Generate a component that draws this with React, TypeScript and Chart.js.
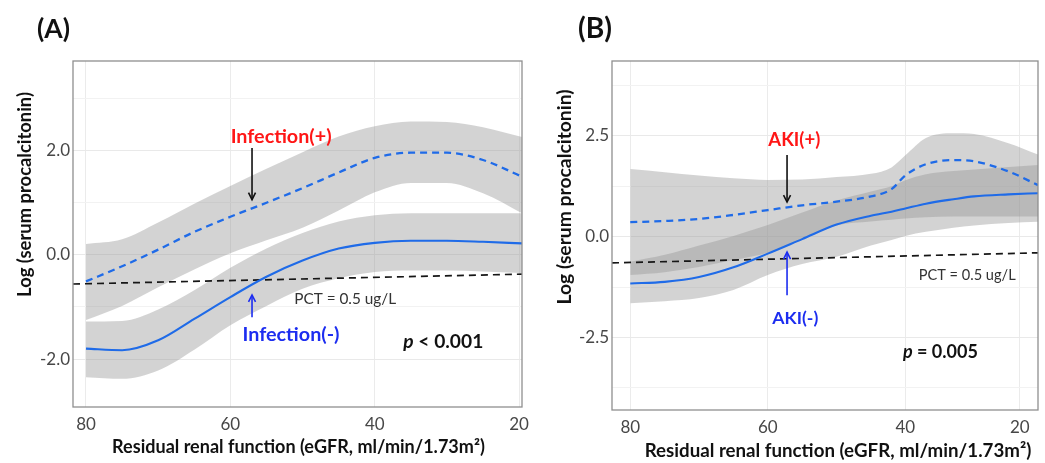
import React, { useEffect, useRef } from "react";
import { Chart, registerables } from "chart.js";
Chart.register(...registerables);

const FAMILY = "Lato, 'Open Sans', sans-serif";

// ---------- Panel A data (Infection) ----------
const A_EGFR = [80, 75, 70, 65, 60, 55, 50, 45, 40, 35, 30, 25, 19.6];
const A_POS = [-0.51, -0.22, 0.1, 0.44, 0.73, 1.0, 1.28, 1.58, 1.86, 1.96, 1.96, 1.82, 1.5];
const A_POS_HI = [0.21, 0.3, 0.62, 0.98, 1.32, 1.65, 1.97, 2.27, 2.47, 2.56, 2.55, 2.45, 2.26];
const A_POS_LO = [-1.25, -0.98, -0.62, -0.28, 0.03, 0.28, 0.52, 0.85, 1.2, 1.38, 1.38, 1.18, 0.8];
const A_NEG = [-1.8, -1.83, -1.64, -1.23, -0.81, -0.42, -0.11, 0.12, 0.23, 0.27, 0.27, 0.25, 0.22];
const A_NEG_HI = [-1.28, -1.27, -1.05, -0.68, -0.25, 0.12, 0.42, 0.64, 0.76, 0.8, 0.8, 0.8, 0.8];
const A_NEG_LO = [-2.35, -2.38, -2.22, -1.82, -1.35, -0.98, -0.65, -0.45, -0.33, -0.3, -0.3, -0.32, -0.35];
const A_PCT_X = [81.8, 19.6];
const A_PCT_Y = [-0.56, -0.37];
const A_X_TICKS = [80, 60, 40, 20];
const A_X_LABELS = ["80", "60", "40", "20"];
const A_Y_GRID = [-2, -1, 0, 1, 2, 3];
const A_Y_LABELED = [-2, 0, 2];

// ---------- Panel B data (AKI) ----------
const B_EGFR = [80, 75, 70, 65, 60, 55, 50, 45, 42, 40, 37, 33, 30, 25, 20.7];
const B_POS = [0.36, 0.39, 0.44, 0.54, 0.66, 0.78, 0.87, 1.0, 1.18, 1.52, 1.8, 1.9, 1.87, 1.62, 1.28];
const B_POS_HI = [1.68, 1.6, 1.52, 1.45, 1.41, 1.42, 1.48, 1.56, 1.72, 2.02, 2.45, 2.57, 2.55, 2.32, 2.04];
const B_POS_LO = [-0.95, -0.88, -0.75, -0.58, -0.4, -0.05, 0.28, 0.38, 0.42, 0.45, 0.48, 0.5, 0.5, 0.5, 0.5];
const B_NEG = [-1.16, -1.12, -1.0, -0.76, -0.42, -0.06, 0.3, 0.52, 0.62, 0.7, 0.82, 0.93, 1.0, 1.05, 1.08];
const B_NEG_HI = [-0.62, -0.45, -0.22, 0.02, 0.29, 0.6, 0.9, 1.12, 1.25, 1.4, 1.55, 1.63, 1.67, 1.73, 1.78];
const B_NEG_LO = [-1.65, -1.6, -1.52, -1.32, -0.95, -0.68, -0.5, -0.22, -0.08, 0.02, 0.12, 0.22, 0.28, 0.34, 0.37];
const B_PCT_X = [82.66, 20.7];
const B_PCT_Y = [-0.65, -0.4];
const B_X_TICKS = [80, 60, 40, 23.35];
const B_X_LABELS = ["80", "60", "40", "20"];
const B_Y_GRID = [-3.75, -2.5, -1.25, 0, 1.25, 2.5, 3.75];
const B_Y_LABELED = [-2.5, 0, 2.5];

const Y_TITLE = "Log (serum procalcitonin)";
const X_TITLE = "Residual renal function (eGFR, ml/min/1.73m\u00B2)";

const LINE_BLUE = "#1f6be8";
const TEXT_BLUE = "#1c2df0";
const TEXT_RED = "#ff1616";
const BAND = "rgba(150,150,150,0.42)";

type Txt = { t: string; italic?: boolean };

function fitSize(ctx: CanvasRenderingContext2D, parts: Txt[], weight: string, target: number) {
  let w = 0;
  for (const p of parts) {
    ctx.font = `${p.italic ? "italic " : ""}${weight} 100px ${FAMILY}`;
    w += ctx.measureText(p.t).width;
  }
  return (100 * target) / w;
}

function drawParts(
  ctx: CanvasRenderingContext2D,
  parts: Txt[],
  cx: number,
  cy: number,
  target: number,
  weight: string,
  color: string
) {
  const size = fitSize(ctx, parts, weight, target);
  let total = 0;
  const widths: number[] = [];
  for (const p of parts) {
    ctx.font = `${p.italic ? "italic " : ""}${weight} ${size}px ${FAMILY}`;
    const w = ctx.measureText(p.t).width;
    widths.push(w);
    total += w;
  }
  let x = cx - total / 2;
  ctx.fillStyle = color;
  ctx.textBaseline = "middle";
  ctx.textAlign = "left";
  parts.forEach((p, i) => {
    ctx.font = `${p.italic ? "italic " : ""}${weight} ${size}px ${FAMILY}`;
    ctx.fillText(p.t, x, cy);
    x += widths[i];
  });
}

function drawArrow(ctx: CanvasRenderingContext2D, x: number, y1: number, y2: number, color: string) {
  const dir = y2 > y1 ? 1 : -1;
  ctx.save();
  ctx.strokeStyle = color;
  ctx.lineWidth = 1.6;
  ctx.setLineDash([]);
  ctx.beginPath();
  ctx.moveTo(x, y1);
  ctx.lineTo(x, y2);
  ctx.stroke();
  ctx.beginPath();
  ctx.moveTo(x - 3.5, y2 - dir * 7);
  ctx.lineTo(x, y2);
  ctx.lineTo(x + 3.5, y2 - dir * 7);
  ctx.stroke();
  ctx.restore();
}

type Cfg = {
  boxLeft: number;
  boxWidth: number;
  area: { left: number; top: number; right: number; bottom: number };
  xMin: number;
  xMax: number;
  yMin: number;
  yMax: number;
  xTicks: number[];
  xLabels: string[];
  yGrid: number[];
  yLabeled: number[];
  egfr: number[];
  pos: number[];
  posHi: number[];
  posLo: number[];
  neg: number[];
  negHi: number[];
  negLo: number[];
  pctX: number[];
  pctY: number[];
  tag: string;
  tagPos: [number, number, number];
  yTitlePos: [number, number, number];
  xTitlePos: [number, number, number];
  posLabel: string;
  posLabelAt: [number, number, number];
  posArrow: [number, number, number];
  negLabel: string;
  negLabelAt: [number, number, number];
  negArrow: [number, number, number];
  pctAt: [number, number, number];
  pText: Txt[];
  pAt: [number, number, number];
};

const PANEL_A: Cfg = {
  boxLeft: 0,
  boxWidth: 540,
  area: { left: 73, top: 61, right: 522, bottom: 407 },
  xMin: 19.6,
  xMax: 81.8,
  yMin: -2.92,
  yMax: 3.72,
  xTicks: A_X_TICKS,
  xLabels: A_X_LABELS,
  yGrid: A_Y_GRID,
  yLabeled: A_Y_LABELED,
  egfr: A_EGFR,
  pos: A_POS,
  posHi: A_POS_HI,
  posLo: A_POS_LO,
  neg: A_NEG,
  negHi: A_NEG_HI,
  negLo: A_NEG_LO,
  pctX: A_PCT_X,
  pctY: A_PCT_Y,
  tag: "(A)",
  tagPos: [53.5, 29, 33],
  yTitlePos: [25, 194.5, 205],
  xTitlePos: [298.5, 447, 373],
  posLabel: "Infection(+)",
  posLabelAt: [52.97, 2.27, 101],
  posArrow: [57.0, 2.05, 1.06],
  negLabel: "Infection(-)",
  negLabelAt: [51.6, -1.54, 97],
  negArrow: [57.0, -1.2, -0.77],
  pctAt: [44.1, -0.85, 102],
  pText: [{ t: "p", italic: true }, { t: " < 0.001" }],
  pAt: [30.5, -1.67, 80],
};

const PANEL_B: Cfg = {
  boxLeft: 540,
  boxWidth: 505,
  area: { left: 72, top: 61, right: 498, bottom: 410 },
  xMin: 20.7,
  xMax: 82.66,
  yMin: -4.3,
  yMax: 4.36,
  xTicks: B_X_TICKS,
  xLabels: B_X_LABELS,
  yGrid: B_Y_GRID,
  yLabeled: B_Y_LABELED,
  egfr: B_EGFR,
  pos: B_POS,
  posHi: B_POS_HI,
  posLo: B_POS_LO,
  neg: B_NEG,
  negHi: B_NEG_HI,
  negLo: B_NEG_LO,
  pctX: B_PCT_X,
  pctY: B_PCT_Y,
  tag: "(B)",
  tagPos: [55, 29, 34],
  yTitlePos: [25, 197, 215],
  xTitlePos: [298, 451, 387],
  posLabel: "AKI(+)",
  posLabelAt: [56.15, 2.4, 52],
  posArrow: [57.2, 2.03, 0.86],
  negLabel: "AKI(-)",
  negLabelAt: [56.0, -2.02, 46],
  negArrow: [57.2, -1.45, -0.38],
  pctAt: [31.0, -0.95, 97],
  pText: [{ t: "p", italic: true }, { t: " = 0.005" }],
  pAt: [34.9, -2.86, 75],
};

const pts = (xs: number[], ys: number[]) => xs.map((x, i) => ({ x, y: ys[i] }));

function Panel({ cfg }: { cfg: Cfg }) {
  const ref = useRef<HTMLCanvasElement>(null);
  useEffect(() => {
    const canvas = ref.current;
    if (!canvas) return;
    const overlay = {
      id: "overlay",
      afterDatasetsDraw(chart: any) {
        const { ctx, chartArea: a } = chart;
        ctx.save();
        ctx.strokeStyle = "#8f8f8f";
        ctx.lineWidth = 1.3;
        ctx.setLineDash([]);
        ctx.strokeRect(a.left, a.top, a.right - a.left, a.bottom - a.top);
        ctx.restore();
      },
      afterDraw(chart: any) {
        const ctx: CanvasRenderingContext2D = chart.ctx;
        const xs = chart.scales.x;
        const ys = chart.scales.y;
        const px = (v: number) => xs.getPixelForValue(v);
        const py = (v: number) => ys.getPixelForValue(v);
        ctx.save();
        drawParts(ctx, [{ t: cfg.tag }], cfg.tagPos[0], cfg.tagPos[1], cfg.tagPos[2], "bold", "#111");
        drawParts(ctx, [{ t: X_TITLE }], cfg.xTitlePos[0], cfg.xTitlePos[1], cfg.xTitlePos[2], "bold", "#111");
        ctx.save();
        ctx.translate(cfg.yTitlePos[0], cfg.yTitlePos[1]);
        ctx.rotate(-Math.PI / 2);
        drawParts(ctx, [{ t: Y_TITLE }], 0, 0, cfg.yTitlePos[2], "bold", "#111");
        ctx.restore();
        drawParts(ctx, [{ t: cfg.posLabel }], px(cfg.posLabelAt[0]), py(cfg.posLabelAt[1]), cfg.posLabelAt[2], "bold", TEXT_RED);
        drawArrow(ctx, px(cfg.posArrow[0]), py(cfg.posArrow[1]), py(cfg.posArrow[2]), "#111");
        drawParts(ctx, [{ t: cfg.negLabel }], px(cfg.negLabelAt[0]), py(cfg.negLabelAt[1]), cfg.negLabelAt[2], "bold", TEXT_BLUE);
        drawArrow(ctx, px(cfg.negArrow[0]), py(cfg.negArrow[1]), py(cfg.negArrow[2]), TEXT_BLUE);
        drawParts(ctx, [{ t: "PCT = 0.5 ug/L" }], px(cfg.pctAt[0]), py(cfg.pctAt[1]), cfg.pctAt[2], "normal", "#333");
        drawParts(ctx, cfg.pText, px(cfg.pAt[0]), py(cfg.pAt[1]), cfg.pAt[2], "bold", "#111");
        ctx.restore();
      },
    };

    const bandDs = (lo: number[], hi: number[]) => [
      {
        data: pts(cfg.egfr, lo),
        borderWidth: 0,
        borderColor: "rgba(0,0,0,0)",
        pointRadius: 0,
        fill: false,
        cubicInterpolationMode: "monotone",
        order: 5,
      },
      {
        data: pts(cfg.egfr, hi),
        borderWidth: 0,
        borderColor: "rgba(0,0,0,0)",
        backgroundColor: BAND,
        pointRadius: 0,
        fill: "-1",
        cubicInterpolationMode: "monotone",
        order: 5,
      },
    ];

    const chart = new Chart(canvas, {
      type: "line",
      data: {
        datasets: [
          ...bandDs(cfg.posLo, cfg.posHi),
          ...bandDs(cfg.negLo, cfg.negHi),
          {
            data: pts(cfg.pctX, cfg.pctY),
            borderColor: "#161616",
            borderWidth: 1.7,
            borderDash: [7, 5],
            pointRadius: 0,
            fill: false,
            order: 1,
          },
          {
            data: pts(cfg.egfr, cfg.pos),
            borderColor: LINE_BLUE,
            borderWidth: 2.3,
            borderDash: [7, 5],
            pointRadius: 0,
            fill: false,
            cubicInterpolationMode: "monotone",
            order: 0,
          },
          {
            data: pts(cfg.egfr, cfg.neg),
            borderColor: LINE_BLUE,
            borderWidth: 2.1,
            pointRadius: 0,
            fill: false,
            cubicInterpolationMode: "monotone",
            order: 0,
          },
        ] as any,
      },
      options: {
        animation: false,
        responsive: true,
        maintainAspectRatio: false,
        layout: {
          padding: { top: cfg.area.top, right: cfg.boxWidth - cfg.area.right, left: 0, bottom: 0 },
        },
        plugins: { legend: { display: false }, tooltip: { enabled: false } },
        elements: { point: { radius: 0 } },
        scales: {
          x: {
            type: "linear",
            reverse: true,
            min: cfg.xMin,
            max: cfg.xMax,
            afterBuildTicks: (s: any) => {
              s.ticks = cfg.xTicks.map((v) => ({ value: v }));
            },
            afterFit: (s: any) => {
              s.height = 463 - cfg.area.bottom;
            },
            ticks: {
              autoSkip: false,
              maxRotation: 0,
              padding: 7,
              color: "#474747",
              font: { family: FAMILY, size: 17 },
              callback: (_v: any, i: number) => cfg.xLabels[i],
            },
            grid: { color: "#ebebeb", drawTicks: false, lineWidth: 1 },
            border: { display: false },
          },
          y: {
            type: "linear",
            min: cfg.yMin,
            max: cfg.yMax,
            afterBuildTicks: (s: any) => {
              s.ticks = cfg.yGrid.map((v) => ({ value: v }));
            },
            afterFit: (s: any) => {
              s.width = cfg.area.left;
            },
            ticks: {
              padding: 3,
              color: "#474747",
              font: { family: FAMILY, size: 17 },
              callback: (v: any) => (cfg.yLabeled.includes(Number(v)) ? Number(v).toFixed(1) : ""),
            },
            grid: {
              color: (c: any) => (c.tick && cfg.yLabeled.includes(c.tick.value) ? "#e9e9e9" : "#f2f2f2"),
              drawTicks: false,
              lineWidth: 1,
            },
            border: { display: false },
          },
        },
      } as any,
      plugins: [overlay],
    });
    return () => chart.destroy();
  }, [cfg]);

  return (
    <div style={{ position: "absolute", left: cfg.boxLeft, top: 0, width: cfg.boxWidth, height: 463 }}>
      <canvas ref={ref} />
    </div>
  );
}

export default function App() {
  return (
    <div style={{ position: "fixed", left: 0, top: 0, width: 1045, height: 463, background: "#fff" }}>
      <Panel cfg={PANEL_A} />
      <Panel cfg={PANEL_B} />
    </div>
  );
}
